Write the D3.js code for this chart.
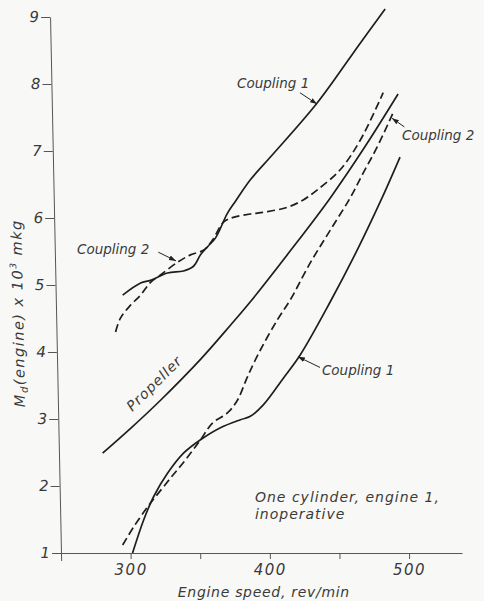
<!DOCTYPE html>
<html>
<head>
<meta charset="utf-8">
<script src="https://cdn.jsdelivr.net/npm/d3@7"></script>
<style>
  html, body { margin: 0; padding: 0; background: #f8f8f6; }
  svg { display: block; }
  text { font-family: "DejaVu Sans", "Noto Sans", sans-serif; font-style: italic; fill: #3a3a3a; }
</style>
</head>
<body>
<svg id="chart" width="484" height="601"></svg>
<script>
// Engine torque against engine speed, one cylinder of engine 1 inoperative.

// Coupling 1, upper branch (solid)
const c1UpperSpeed  = [294.3, 307.2, 314.3, 326.5, 338.0, 345.2, 350.2, 355.2, 360.9, 369.5, 375.3, 386.0, 400.4, 434.1, 464.9, 482.8];
const c1UpperTorque = [4.85, 5.03, 5.07, 5.18, 5.21, 5.28, 5.45, 5.57, 5.70, 6.07, 6.25, 6.57, 6.91, 7.72, 8.61, 9.12];

// Coupling 2, upper branch (dashed)
const c2UpperSpeed  = [289.2, 292.8, 300.0, 307.2, 314.3, 321.5, 333.7, 343.0, 352.3, 358.8, 366.7, 373.8, 386.0, 396.8, 412.5, 424.0, 434.1, 450.5, 464.9, 481.4];
const c2UpperTorque = [4.30, 4.51, 4.70, 4.85, 5.04, 5.15, 5.34, 5.45, 5.52, 5.67, 5.94, 6.01, 6.06, 6.09, 6.16, 6.27, 6.42, 6.72, 7.16, 7.87];

// Propeller law (solid)
const propSpeed  = [279.9, 300.0, 321.5, 350.2, 371.7, 386.0, 414.7, 443.4, 468.5, 492.1];
const propTorque = [2.49, 2.86, 3.28, 3.89, 4.40, 4.75, 5.51, 6.30, 7.07, 7.85];

// Coupling 2, lower branch (dashed)
const c2LowerSpeed  = [294.3, 302.2, 312.2, 317.9, 328.7, 339.4, 350.2, 358.8, 369.5, 376.7, 383.9, 393.2, 405.4, 414.7, 429.0, 443.4, 457.7, 467.0, 477.1, 488.5];
const c2LowerTorque = [1.12, 1.39, 1.69, 1.84, 2.12, 2.39, 2.69, 2.94, 3.09, 3.28, 3.63, 4.03, 4.48, 4.78, 5.33, 5.82, 6.30, 6.67, 7.06, 7.57];

// Coupling 1, lower branch (solid)
const c1LowerSpeed  = [301.4, 309.3, 316.5, 326.5, 338.0, 350.2, 364.5, 378.9, 386.0, 395.3, 409.7, 421.9, 443.4, 462.7, 479.9, 493.5];
const c1LowerTorque = [1.00, 1.49, 1.84, 2.19, 2.49, 2.69, 2.87, 2.99, 3.04, 3.21, 3.61, 3.96, 4.75, 5.52, 6.27, 6.91];

// Axis ticks
const speedTicks  = [300, 350, 400, 450, 500];
const speedLabels = [300, 400, 500];
const torqueTicks = [1, 2, 3, 4, 5, 6, 7, 8, 9];

const svg = d3.select("#chart");

const x = d3.scaleLinear().domain([245.7, 538]).range([55, 462]);
const y = d3.scaleLinear().domain([0.89, 9]).range([560.4, 17]);

const xOrigin = x(250), yOrigin = y(1);

// Arrowhead for the callout leaders
svg.append("defs").append("marker")
  .attr("id", "tip")
  .attr("viewBox", "0 0 10 10")
  .attr("refX", 10).attr("refY", 5)
  .attr("markerWidth", 7).attr("markerHeight", 7)
  .attr("markerUnits", "userSpaceOnUse")
  .attr("orient", "auto")
  .append("path").attr("d", "M0,1.5 L10,5 L0,8.5 Z").attr("fill", "#222");

// X axis
const xAxis = svg.append("g")
  .attr("transform", `translate(0,${yOrigin})`)
  .call(d3.axisBottom(x)
    .tickValues(speedTicks)
    .tickFormat(d => speedLabels.includes(d) ? d : "")
    .tickSize(6).tickSizeOuter(0).tickPadding(5));

// Y axis (drawn slightly leaning, as on the sheet)
const lean = 1.17;
const yAxis = svg.append("g")
  .attr("transform", `translate(${xOrigin},${yOrigin}) skewX(${lean}) translate(0,${-yOrigin})`)
  .call(d3.axisLeft(y)
    .tickValues(torqueTicks)
    .tickFormat(d3.format("d"))
    .tickSize(9).tickSizeOuter(0).tickPadding(2));

[xAxis, yAxis].forEach(g => {
  g.select(".domain").attr("stroke", "#555").attr("stroke-width", 1);
  g.selectAll(".tick line").attr("stroke", "#555").attr("stroke-width", 1);
  g.selectAll(".tick text")
    .attr("font-family", "DejaVu Sans, sans-serif")
    .attr("font-style", "italic")
    .attr("font-size", 15)
    .attr("fill", "#444");
});
xAxis.selectAll(".tick text").attr("letter-spacing", 1.5);

// Y axis title
const yTitle = yAxis.append("text")
  .attr("transform", `translate(-33,${y(4.58)}) rotate(-90)`)
  .attr("text-anchor", "middle")
  .attr("font-size", 14.5)
  .attr("letter-spacing", 1.5)
  .attr("fill", "#444");
yTitle.append("tspan").text("M");
yTitle.append("tspan").attr("font-size", 10).attr("dy", 3).text("d");
yTitle.append("tspan").attr("dy", -3).text("(engine) x 10");
yTitle.append("tspan").attr("font-size", 9).attr("dy", -6).text("3");
yTitle.append("tspan").attr("dy", 6).text(" mkg");

// X axis title
svg.append("text")
  .attr("x", x(395.7)).attr("y", 597)
  .attr("text-anchor", "middle")
  .attr("font-size", 14)
  .attr("letter-spacing", 0.7)
  .text("Engine speed, rev/min");

// Curves
const line = d3.line()
  .x(d => x(d[0]))
  .y(d => y(d[1]))
  .curve(d3.curveCatmullRom.alpha(0.5));

const curves = [
  { speed: c1UpperSpeed, torque: c1UpperTorque, dash: null },
  { speed: c2UpperSpeed, torque: c2UpperTorque, dash: "8,4" },
  { speed: propSpeed,    torque: propTorque,    dash: null },
  { speed: c2LowerSpeed, torque: c2LowerTorque, dash: "8,4" },
  { speed: c1LowerSpeed, torque: c1LowerTorque, dash: null }
];

svg.append("g").selectAll("path")
  .data(curves)
  .join("path")
  .attr("d", c => line(c.speed.map((s, i) => [s, c.torque[i]])))
  .attr("fill", "none")
  .attr("stroke", "#1e1e1e")
  .attr("stroke-width", 1.7)
  .attr("stroke-dasharray", c => c.dash);

// Callouts: label start, leader tail and tip in data units
const callouts = [
  { text: "Coupling 1", at: [376.4, 7.94], from: [421.6, 7.87], to: [433.9, 7.70] },
  { text: "Coupling 2", at: [494.9, 7.16], from: [496.6, 7.36], to: [487.7, 7.49] },
  { text: "Coupling 2", at: [261.5, 5.46], from: [319.9, 5.49], to: [332.6, 5.36] },
  { text: "Coupling 1", at: [437.4, 3.66], from: [436.0, 3.77], to: [420.2, 3.93] }
];

const notes = svg.append("g");
callouts.forEach(c => {
  notes.append("text")
    .attr("x", x(c.at[0])).attr("y", y(c.at[1]))
    .attr("font-size", 13.5)
    .text(c.text);
  notes.append("line")
    .attr("x1", x(c.from[0])).attr("y1", y(c.from[1]))
    .attr("x2", x(c.to[0])).attr("y2", y(c.to[1]))
    .attr("stroke", "#222").attr("stroke-width", 1)
    .attr("marker-end", "url(#tip)");
});

// Propeller label, laid along its curve
const pa = [x(300), y(2.86)], pb = [x(350.2), y(3.89)];
const angle = Math.atan2(pb[1] - pa[1], pb[0] - pa[0]) * 180 / Math.PI;
notes.append("text")
  .attr("transform", `translate(${x(319.5)},${y(3.48)}) rotate(${angle})`)
  .attr("text-anchor", "middle")
  .attr("font-size", 14)
  .attr("letter-spacing", 1)
  .text("Propeller");

// Operating condition note
const cond = notes.append("text")
  .attr("font-size", 14)
  .attr("letter-spacing", 1);
cond.append("tspan").attr("x", x(389.3)).attr("y", y(1.76)).text("One cylinder, engine 1,");
cond.append("tspan").attr("x", x(389.3)).attr("y", y(1.51)).text("inoperative");
</script>
</body>
</html>
